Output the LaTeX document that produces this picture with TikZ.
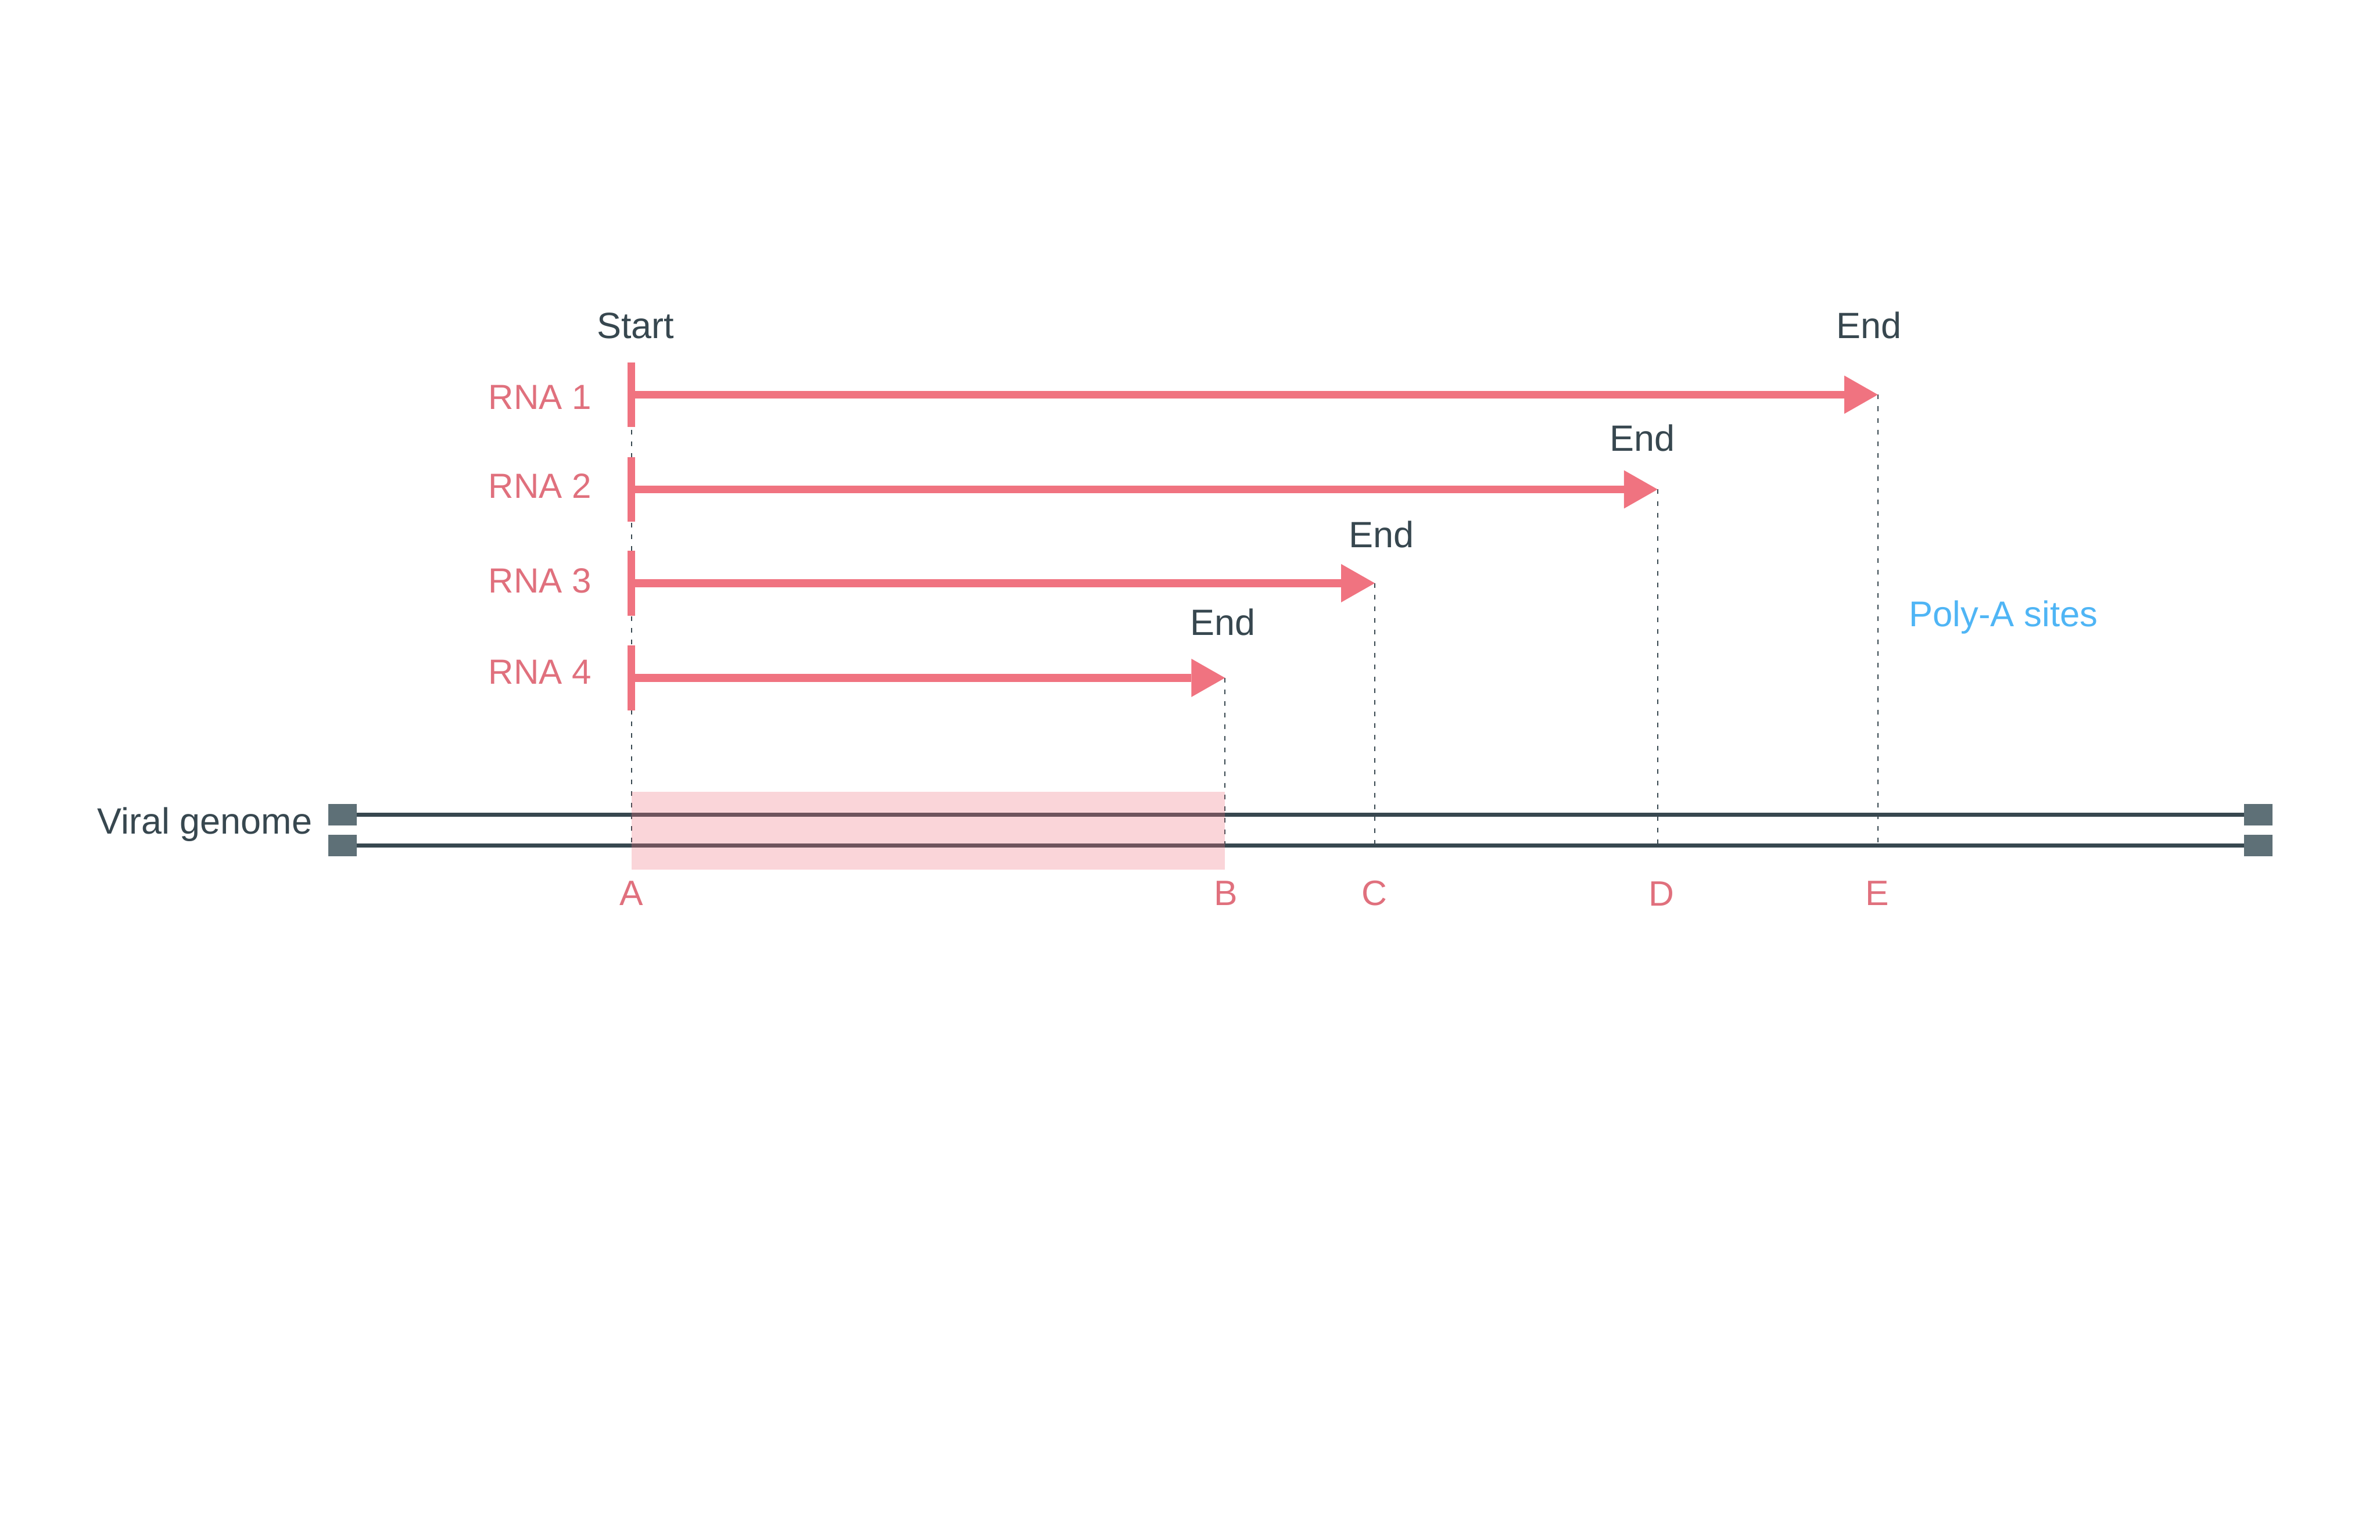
\documentclass[tikz,border=0pt]{standalone}
\usepackage{fontspec}
\setmainfont{Liberation Sans}
\usetikzlibrary{positioning,calc,arrows.meta}
\definecolor{rnared}{HTML}{F07380}
\definecolor{labelred}{HTML}{E0707D}
\definecolor{slate}{HTML}{37474F}
\definecolor{capgrey}{HTML}{5E7077}
\definecolor{polyblue}{HTML}{4FB5F5}

\begin{document}
\begin{tikzpicture}[
    rna/.style={line width=1.7mm,draw=rnared,shorten <=-0.85mm,{Bar[width=13.9mm]}-{Triangle[length=7.2mm,width=8.2mm,line width=0pt]}},
    site/.style={draw=slate,line width=0.25mm,dash pattern=on 1mm off 1.5mm},
    genome/.style={draw=slate,line width=0.87mm},
    endcap/.style={rectangle,fill=capgrey,minimum width=6mm,minimum height=4.6mm,inner sep=0pt},
    txt/.style={text=slate,font=\fontsize{22.3}{26}\selectfont,anchor=base,inner sep=0pt},
    rnalabel/.style={text=labelred,font=\fontsize{21.3}{25}\selectfont,anchor=base east,inner sep=0pt},
    poslabel/.style={text=labelred,font=\fontsize{21.5}{25}\selectfont,anchor=base,inner sep=0pt}]

\useasboundingbox (0,0) rectangle (51,33);

% transcripts: start and end (poly-A) points
\coordinate (s1) at (13.53,24.54);
\coordinate (s2) at (13.53,22.51);
\coordinate (s3) at (13.53,20.50);
\coordinate (s4) at (13.53,18.47);
\coordinate (e1) at (40.24,24.54);
\coordinate (e2) at (35.52,22.51);
\coordinate (e3) at (29.46,20.50);
\coordinate (e4) at (26.25,18.47);
\coordinate (gbot) at (0,14.88);

% site guides
\draw[site] (s1) -- (s1 |- gbot);
\draw[site] (e1) -- (e1 |- gbot);
\draw[site] (e2) -- (e2 |- gbot);
\draw[site] (e3) -- (e3 |- gbot);
\draw[site] (e4) -- (e4 |- gbot);

% viral genome
\node[endcap] (capl1) at (7.34,15.54) {};
\node[endcap] (capl2) at (7.34,14.88) {};
\node[endcap] (capr1) at (48.39,15.54) {};
\node[endcap] (capr2) at (48.39,14.88) {};
\draw[genome] (capl1) -- (capr1);
\draw[genome] (capl2) -- (capr2);
\fill[rnared,fill opacity=0.3] (13.53,16.03) rectangle (26.25,14.36);
\node[txt,anchor=base east] (viral) at (6.70,15.13) {Viral genome};

% RNAs
\draw[rna] (s1) -- (e1);
\draw[rna] (s2) -- (e2);
\draw[rna] (s3) -- (e3);
\draw[rna] (s4) -- (e4);

\node[rnalabel] (rna1) at (12.68,24.23) {RNA 1};
\node[rnalabel] (rna2) at (12.68,22.32) {RNA 2};
\node[rnalabel] (rna3) at (12.68,20.29) {RNA 3};
\node[rnalabel] (rna4) at (12.68,18.34) {RNA 4};

\node[txt] (start) at (13.62,25.75) {Start};
\node[txt] (end1) at (40.05,25.75) {End};
\node[txt] (end2) at (35.19,23.33) {End};
\node[txt] (end3) at (29.60,21.27) {End};
\node[txt] (end4) at (26.20,19.38) {End};

\node[txt,text=polyblue,anchor=base west,font=\fontsize{21.8}{25}\selectfont] (polya) at (40.90,19.57) {Poly-A sites};

% site letters
\node[poslabel] (siteA) at (13.53,13.60) {A};
\node[poslabel] (siteB) at (26.27,13.60) {B};
\node[poslabel] (siteC) at (29.45,13.60) {C};
\node[poslabel] (siteD) at (35.60,13.58) {D};
\node[poslabel] (siteE) at (40.23,13.60) {E};

\end{tikzpicture}
\end{document}
